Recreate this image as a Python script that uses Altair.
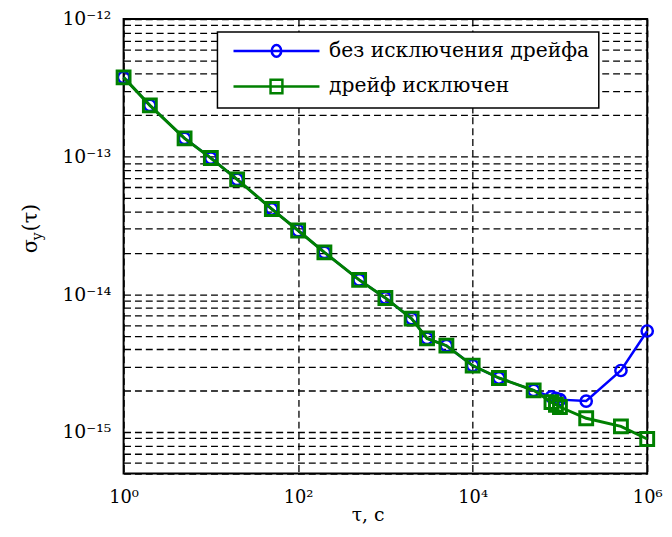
import altair as alt
import pandas as pd

# ---------------- data ----------------
NBSP = "\u00a0" * 6  # keeps the legend box as wide as in the reference
SERIES = ["без исключения дрейфа" + NBSP, "дрейф исключен" + NBSP]
TAU = [1, 2, 5, 10, 20, 50, 100, 200, 500, 1000, 2000, 3000, 5000,
       1e4, 2e4, 5e4, 8e4, 9e4, 1e5, 2e5, 5e5, 1e6]
SIGMA_WITH_DRIFT = [3.77e-13, 2.36e-13, 1.36e-13, 9.78e-14, 6.84e-14, 4.17e-14,
                    2.91e-14, 2.02e-14, 1.275e-14, 9.42e-15, 6.66e-15, 4.79e-15,
                    4.24e-15, 3.04e-15, 2.47e-15, 2.01e-15, 1.80e-15, 1.76e-15,
                    1.72e-15, 1.68e-15, 2.80e-15, 5.42e-15]
SIGMA_NO_DRIFT = [3.77e-13, 2.36e-13, 1.36e-13, 9.78e-14, 6.84e-14, 4.17e-14,
                  2.91e-14, 2.02e-14, 1.275e-14, 9.42e-15, 6.66e-15, 4.79e-15,
                  4.24e-15, 3.04e-15, 2.47e-15, 2.01e-15, 1.65e-15, 1.58e-15,
                  1.52e-15, 1.26e-15, 1.10e-15, 8.9e-16]

X_TICKS = [1, 1e2, 1e4, 1e6]
X_LABELS = ["10⁰", "10²", "10⁴", "10⁶"]
Y_TICKS = [1e-12, 1e-13, 1e-14, 1e-15]
Y_LABELS = ["10⁻¹²", "10⁻¹³", "10⁻¹⁴", "10⁻¹⁵"]
Y_GRID = [m * 10.0 ** e for e in range(-16, -11) for m in range(1, 10)
          if 5e-16 * 0.999 <= m * 10.0 ** e <= 1e-12 * 1.001]

X_TITLE = "τ, с"
BLUE = "#0000ff"
GREEN = "#008000"
FONT = "DejaVu Serif"

df = pd.DataFrame({
    "tau": TAU * 2,
    "sigma": SIGMA_WITH_DRIFT + SIGMA_NO_DRIFT,
    "series": [SERIES[0]] * len(TAU) + [SERIES[1]] * len(TAU),
})


def label_expr(values, labels):
    parts = [f"abs(datum.value - {v!r}) < {v!r} * 1e-6 ? '{lab}'"
             for v, lab in zip(values, labels)]
    return " : ".join(parts) + " : ''"


x_enc = alt.X(
    "tau:Q",
    scale=alt.Scale(type="log", domain=[1, 1e6]),
    axis=alt.Axis(values=X_TICKS, labelExpr=label_expr(X_TICKS, X_LABELS),
                  title=X_TITLE, labelPadding=15, titleFontSize=19,
                  titleBaseline="alphabetic", titleY=48,
                  titleX=247, labelOverlap=False, labelFlush=False),
)
y_enc = alt.Y(
    "sigma:Q",
    scale=alt.Scale(type="log", domain=[5e-16, 1e-12]),
    axis=alt.Axis(values=Y_GRID, labelExpr=label_expr(Y_TICKS, Y_LABELS),
                  title=None, labelPadding=13, labelOverlap=False,
                  labelBaseline="middle", labelFontSize=19),
)

base = alt.Chart(df)
blue = base.transform_filter(alt.datum.series == SERIES[0])
green = base.transform_filter(alt.datum.series == SERIES[1])

blue_line = blue.mark_line(color=BLUE, strokeWidth=2.5).encode(x=x_enc, y=y_enc)
blue_pts = blue.mark_point(shape="circle", filled=False, color=BLUE, size=130,
                           strokeWidth=2.5, opacity=1).encode(x=x_enc, y=y_enc)
green_line = green.mark_line(color=GREEN, strokeWidth=3).encode(x=x_enc, y=y_enc)
green_pts = green.mark_point(shape="square", filled=False, color=GREEN, size=170,
                             strokeWidth=3, opacity=1).encode(x=x_enc, y=y_enc)

# legend: symbol = line with marker in the middle (custom paths)
PATH_CIRCLE = "M-7.25,0L7.25,0M-0.8,0A0.8,1,0,1,0,0.8,0A0.8,1,0,1,0,-0.8,0Z"
PATH_SQUARE = "M-7.25,0L7.25,0M-1,-1.15L1,-1.15L1,1.15L-1,1.15Z"
legend = alt.Legend(
    title=None, orient="none", legendX=95, legendY=13, direction="vertical",
    fillColor="white", strokeColor="black", padding=9, rowPadding=12,
    symbolSize=144, symbolStrokeWidth=2.5, symbolOffset=40.5, labelOffset=43,
    labelFont=FONT, labelFontSize=20.5, labelColor="black", labelLimit=600,
)
legend_layer = base.transform_filter("false").mark_point(
    filled=False, strokeWidth=2.5, opacity=1
).encode(
    x=x_enc, y=y_enc,
    color=alt.Color("series:N", scale=alt.Scale(domain=SERIES, range=[BLUE, GREEN]),
                    legend=legend),
    shape=alt.Shape("series:N",
                    scale=alt.Scale(domain=SERIES, range=[PATH_CIRCLE, PATH_SQUARE]),
                    legend=legend),
)

# y-axis title  σ_y(τ)
one = alt.Chart(pd.DataFrame({"k": [0]}))
t_sigma = one.mark_text(font=FONT, fontSize=21, angle=270, align="left",
                        baseline="alphabetic", color="black").encode(
    text=alt.value("σ"), x=alt.value(-88), y=alt.value(237))
t_sub = one.mark_text(font=FONT, fontSize=14, angle=270, align="left",
                      baseline="alphabetic", color="black").encode(
    text=alt.value("y"), x=alt.value(-83), y=alt.value(224))
t_tau = one.mark_text(font=FONT, fontSize=21, angle=270, align="left",
                      baseline="alphabetic", color="black").encode(
    text=alt.value("(τ)"), x=alt.value(-88), y=alt.value(215))

chart = alt.layer(
    blue_line, blue_pts, green_line, green_pts, legend_layer, t_sigma, t_sub, t_tau
).properties(
    width=530, height=460,
    padding={"left": 117, "top": 8, "right": 17, "bottom": 53},
    autosize=alt.AutoSizeParams(type="none"),
).configure_view(
    stroke="black", strokeWidth=2
).configure_axis(
    grid=True, gridColor="#000000", gridDash=[7, 4], gridWidth=1.3, gridOpacity=1,
    domain=False, ticks=False,
    labelFont=FONT, labelFontSize=18, labelColor="black",
    titleFont=FONT, titleFontSize=20, titleColor="black", titleFontWeight="normal",
).configure_legend(
    strokeWidth=1.5
)

chart.save("out.html", embed_options={"renderer": "svg", "actions": False})
